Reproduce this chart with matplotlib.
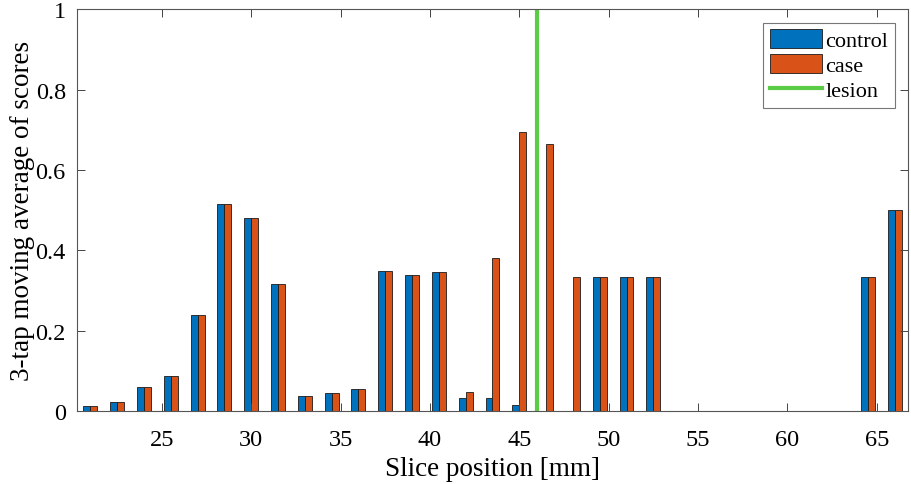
import numpy as np
import matplotlib
matplotlib.use("Agg")
import matplotlib.pyplot as plt

plt.rcParams['font.family'] = ['Liberation Serif', 'DejaVu Serif']

# slice positions (mm) and 3-tap moving average scores
pos = [21, 22.5, 24, 25.5, 27, 28.5, 30, 31.5, 33, 34.5, 36, 37.5, 39, 40.5, 42, 43.5,
       45, 46.5, 48, 49.5, 51, 52.5, 54, 55.5, 57, 58.5, 60, 61.5, 63, 64.5, 66]
control = [0.012, 0.022, 0.06, 0.088, 0.24, 0.515, 0.48, 0.315, 0.037, 0.045, 0.055, 0.348,
           0.338, 0.345, 0.032, 0.032, 0.015, 0.0, 0.0, 0.333, 0.333, 0.333, 0.0, 0.0,
           0.0, 0.0, 0.0, 0.0, 0.0, 0.333, 0.5]
case = [0.012, 0.022, 0.06, 0.088, 0.24, 0.515, 0.48, 0.315, 0.037, 0.045, 0.055, 0.348,
        0.338, 0.345, 0.048, 0.38, 0.695, 0.665, 0.333, 0.333, 0.333, 0.333, 0.0, 0.0,
        0.0, 0.0, 0.0, 0.0, 0.0, 0.333, 0.5]
lesion = 46

xticks = [25, 30, 35, 40, 45, 50, 55, 60, 65]
yticks = [0, 0.2, 0.4, 0.6, 0.8, 1]

fig = plt.figure(figsize=(9.12, 4.85), dpi=100)
ax = fig.add_axes([0.0844, 0.1505, 0.9112, 0.8285])

x = np.array(pos)
w = 0.39
h1 = ax.bar(x - w / 2, control, width=w, color='#0072BD', edgecolor='#1a1a1a', linewidth=0.6, label='control')
h2 = ax.bar(x + w / 2, case, width=w, color='#D95319', edgecolor='#1a1a1a', linewidth=0.6, label='case')
h3 = ax.axvline(lesion, color='#5CCB45', linewidth=3, label='lesion')

ax.set_xlim(20.25, 66.75)
ax.set_ylim(0, 1)
ax.set_xticks(xticks)
ax.set_yticks(yticks)
ax.set_yticklabels(['0', '0.2', '0.4', '0.6', '0.8', '1'])
ax.tick_params(direction='in', top=True, right=True, labelsize=17.5, color='#444444',
               length=6, width=0.7)
ax.tick_params(axis='x', pad=13)
ax.tick_params(axis='y', pad=8)
for s in ax.spines.values():
    s.set_color('#555555')
    s.set_linewidth(0.8)

ax.set_xlabel('Slice position [mm]', fontsize=19.5, labelpad=4)
ax.set_ylabel('3-tap moving average of scores', fontsize=19.5, labelpad=0.5)

leg = ax.legend([h1, h2, h3], ['control', 'case', 'lesion'], loc='upper right', fontsize=16,
                handlelength=2.35, handleheight=0.95, frameon=True, fancybox=False,
                edgecolor='#555555', borderpad=0.3, labelspacing=0.12, handletextpad=0.15,
                borderaxespad=0.6)
leg.get_frame().set_linewidth(0.8)

fig.savefig('out.png', dpi=100)
